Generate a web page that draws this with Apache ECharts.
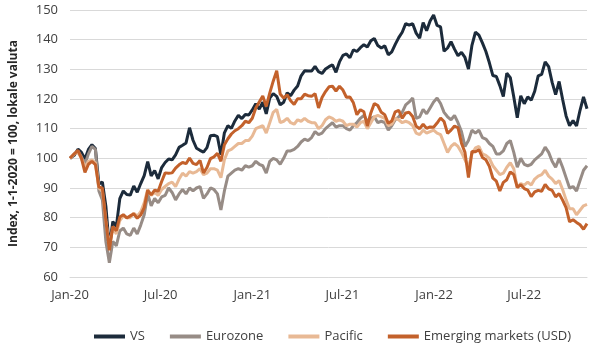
<!DOCTYPE html>
<html>
<head>
<meta charset="utf-8">
<script src="https://cdn.jsdelivr.net/npm/echarts@6/dist/echarts.min.js"></script>
<style>
html,body{margin:0;padding:0;background:#fff;}
#c{width:600px;height:346px;}
</style>
</head>
<body>
<div id="c"></div>
<script>
// Weekly observations: first point 1 Jan 2020, then every Friday from 3 Jan 2020 to 4 Nov 2022
const firstDate = [2020, 0, 1];
const firstFriday = [2020, 0, 3];
const pointCount = 150;

const tickDates = [[2020,0,1],[2020,6,1],[2021,0,1],[2021,6,1],[2022,0,1],[2022,6,1]];
const tickLabels = ['Jan-20','Jul-20','Jan-21','Jul-21','Jan-22','Jul-22'];

const seriesNames = ['VS','Eurozone','Pacific','Emerging markets (USD)'];

const vs = [
100,100.1,101.1,103.1,102.0,99.8,103.0,104.6,103.3,91.4,
92.0,83.9,70.0,78.7,77.0,86.4,89.0,87.8,87.6,90.7,
88.6,91.5,94.2,98.9,94.1,95.9,93.1,96.9,98.6,99.8,
99.5,101.2,103.7,104.4,105.2,110.3,106.1,103.4,102.7,102.1,
103.6,107.6,107.8,107.3,101.2,108.6,111.0,110.1,112.6,114.5,
113.4,114.8,114.6,116.3,118.4,116.6,118.9,115.0,120.3,121.8,
120.9,118.0,118.9,122.1,121.1,123.0,124.4,127.8,129.5,129.4,
129.4,131.0,129.2,128.6,130.1,130.9,131.5,129.0,132.5,134.7,
135.2,133.9,136.6,136.0,137.3,138.3,137.5,139.6,140.4,138.0,
137.2,137.9,134.9,135.9,138.4,140.7,142.5,145.4,144.9,145.4,
142.2,140.5,145.8,143.0,146.3,148.3,144.8,144.3,136.1,137.2,
139.3,136.8,134.6,135.7,134.0,130.1,138.1,142.5,141.5,138.9,
136.0,132.2,127.9,127.6,124.5,120.8,128.7,127.2,120.7,113.7,
121.1,118.4,120.7,119.6,122.6,127.8,128.3,132.5,130.9,125.6,
121.5,125.9,119.9,114.3,111.0,112.7,110.9,116.2,120.7,116.7
];

const eurozone = [
100,100.5,101.5,102.5,100.5,98,101.5,104,103,89,
86,72,64.8,72,70.5,75.5,76.5,74.5,74,76.5,
74.5,77.5,81,88,84,86.5,85,87,87.5,90,
88.5,86,88,89.5,88,90,89,90,90.5,86.5,
88,90,89.5,88,82.6,89,94,95,96,96.5,
96,97.5,97,97.5,99,98,97.5,95,99,100,
99.5,98,100,102.5,102.5,103,104,105.5,106.5,106,
107,109,108,108.5,110,111,112,110.5,111,111,
110,109.5,111,112,113.5,114.5,112.5,113.5,114,112,
112.5,112,109.5,111,113,114,115.5,118,119,120.3,
113.5,114,116.5,115,117,119,120.3,118.5,115.5,114,
113,114.5,112,109,104,106,109.5,108.5,109.5,107,
106.5,105,104,101.5,101.5,102.5,105,106,102,97,
100,98,97.5,98,99.5,100.5,101.5,103.8,102,99,
97,100,97,93.5,90,90.5,89,92.5,96,97.5
];

const pacific = [
100,100.5,101.5,102,100,97,99,99.5,98.5,90,
89,79,70.5,76.5,74.5,79,80.5,80,80,81.5,
80.5,82,85,89.5,87.5,88.5,87.5,89.5,90.5,91.5,
92,90.5,93,95,94,95.5,95,95.5,96.5,94.5,
95,96.5,96.5,96,93.5,99.5,102.5,103,104,105,
105,106,106,107.5,110,110.5,111,108.5,112,115.5,
116.5,112,112.5,113.5,112,111.5,113,112.5,113.5,112.5,
112,112,110,111,113,114,113.5,112.5,113,112.5,
111,111.5,111.5,110.5,112,112.5,110,112,114,114.5,
114,113.5,111,111.5,113.5,113,112,112.5,112,111,
108.5,108,109.5,108.5,109,109.5,108.5,108,105,102,
104,105,104,102,99.5,97,101.5,103.5,104,101.5,
101,100,97.5,96,94.5,95,97,98.5,96.5,90,
91.5,91,92,91,93,94,94.5,96,94,93,
91.5,92.5,89.5,86,83,83,81,82.5,84,84.5
];

const emerging = [
100,99.7,101.6,102.7,100,95.3,98,99,97.9,90.3,
90,79,69,77,75.6,80.2,81,79.9,80.6,81.3,
79.8,80.9,83.4,89.2,87.7,89.3,88.9,92.2,95.1,95,
95.1,96.7,97.8,98.6,98.2,100.1,98.3,97.9,99.3,95.1,
96.9,99.9,100.5,101.7,99,104.6,106.6,108.2,109.3,110,
111,112.5,112,113.5,117,119,121,117.5,122,126,
129.5,121.7,120.3,121.4,119.4,118.2,120.1,120.1,121.6,121.1,
120.9,121.8,117,120.5,122.5,124.1,124.3,122.7,124.3,123,
120.6,120.7,118.7,114.7,116.4,115.7,110.9,115.3,118.5,117.8,
115.5,114.7,111.8,112.6,115.7,116.2,113.5,115.3,115.5,114.1,
110.8,110,111.5,110.1,110.6,110.5,111.9,113.6,112.4,108.4,
109.5,110.9,110.3,105.1,102,93.5,102.3,102.2,102.9,100.3,
99.5,97.3,93.3,92.3,89,91.9,92.8,95.4,94.5,90.2,
91.1,89.8,89.3,87.1,88.7,89.2,88.9,91.2,89.7,89.2,
87,88.1,85.9,83.4,78.6,79.3,78.4,77.6,76.1,78
];

const colors = ['#1c2b3b', '#978c86', '#e8b995', '#c3612b'];

// x positions (dates) for each weekly observation
const dates = [];
for (let i = 0; i < pointCount; i++) {
  if (i === 0) dates.push(new Date(firstDate[0], firstDate[1], firstDate[2]).getTime());
  else dates.push(new Date(firstFriday[0], firstFriday[1], firstFriday[2] + 7 * (i - 1)).getTime());
}
const tickTimes = tickDates.map(d => new Date(d[0], d[1], d[2]).getTime());

function pair(arr) { return arr.map((v, i) => [dates[i], v]); }
const allValues = [vs, eurozone, pacific, emerging];

const font = '"Open Sans", "Noto Sans", sans-serif';
const chart = echarts.init(document.getElementById('c'), null, {renderer: 'canvas'});
chart.setOption({
  animation: false,
  backgroundColor: '#ffffff',
  color: colors,
  grid: {left: 70, right: 13, top: 10, bottom: 69, containLabel: false},
  legend: {
    data: seriesNames,
    left: 89,
    top: 325,
    icon: 'rect',
    itemWidth: 31,
    itemHeight: 4,
    itemGap: 25,
    textStyle: {color: '#404040', fontSize: 13, fontFamily: font}
  },
  xAxis: {
    type: 'value',
    min: dates[0],
    max: dates[pointCount - 1],
    axisLine: {show: true, lineStyle: {color: '#d9d9d9', width: 1}},
    axisTick: {show: false},
    splitLine: {show: false},
    axisLabel: {
      customValues: tickTimes,
      color: '#404040',
      fontSize: 13,
      fontFamily: font,
      margin: 12,
      hideOverlap: false,
      formatter: function (val) {
        const k = tickTimes.indexOf(val);
        return k >= 0 ? tickLabels[k] : '';
      }
    }
  },
  yAxis: {
    type: 'value',
    min: 60,
    max: 150,
    interval: 10,
    name: 'Index, 1-1-2020 = 100, lokale valuta',
    nameLocation: 'middle',
    nameGap: 50,
    nameTextStyle: {color: '#262626', fontSize: 12, fontWeight: 'bold', fontFamily: font},
    axisLine: {show: false},
    axisTick: {show: false},
    splitLine: {lineStyle: {color: '#d9d9d9', width: 1}},
    axisLabel: {color: '#404040', fontSize: 13, fontFamily: font, margin: 12}
  },
  series: seriesNames.map((name, k) => ({
    name: name,
    type: 'line',
    data: pair(allValues[k]),
    showSymbol: false,
    symbol: 'none',
    lineStyle: {width: 3, color: colors[k]},
    itemStyle: {color: colors[k]},
    z: 2 + k
  }))
});
</script>
</body>
</html>
